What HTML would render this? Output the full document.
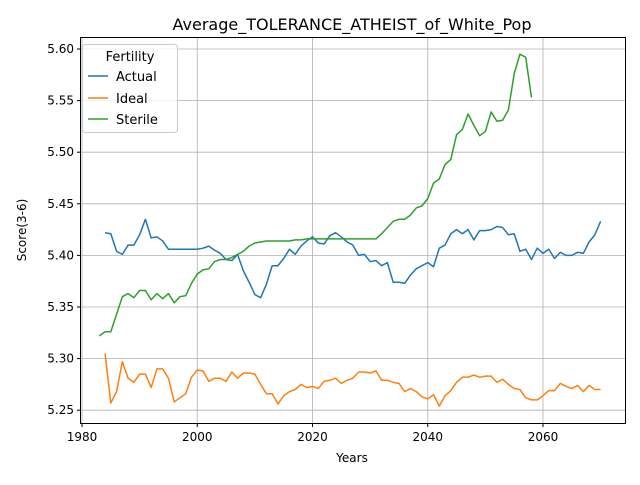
<!DOCTYPE html>
<html><head><meta charset="utf-8"><style>
body{margin:0;background:#fff;font-family:"Liberation Sans","DejaVu Sans",sans-serif}
</style></head><body>
<svg id="chart" width="640" height="480" xmlns="http://www.w3.org/2000/svg" font-family="'DejaVu Sans','Liberation Sans',sans-serif">
<rect width="640" height="480" fill="#fff"/>
<g id="grid"></g>
<g id="lines"></g>
<rect x="80.5" y="37.5" width="545" height="386" fill="none" stroke="#000" stroke-width="1"/>
<g id="ticks"></g>
<text x="352" y="30" text-anchor="middle" font-size="16">Average_TOLERANCE_ATHEIST_of_White_Pop</text>
<text x="352" y="462" text-anchor="middle" font-size="12">Years</text>
<text x="26" y="230" text-anchor="middle" font-size="12" transform="rotate(-90 26 230)">Score(3-6)</text>
<g>
<rect x="82.5" y="44.5" width="95" height="88" rx="3" fill="#fff" fill-opacity="0.8" stroke="#ccc"/>
<text x="130" y="61" text-anchor="middle" font-size="13">Fertility</text>
<g><line x1="88" y1="76" x2="108" y2="76" stroke="#1f77b4" stroke-width="1.5"/><text x="116" y="81" font-size="13">Actual</text></g>
<g><line x1="88" y1="98" x2="108" y2="98" stroke="#ff7f0e" stroke-width="1.5"/><text x="116" y="103" font-size="13">Ideal</text></g>
<g><line x1="88" y1="119" x2="108" y2="119" stroke="#2ca02c" stroke-width="1.5"/><text x="116" y="124" font-size="13">Sterile</text></g>
</g>
</svg>
<script>
const actualStart = 1984;
const actual = [5.422,5.421,5.404,5.401,5.410,5.410,5.420,5.435,5.417,5.418,
5.414,5.406,5.406,5.406,5.406,5.406,5.406,5.407,5.409,5.405,
5.402,5.396,5.395,5.401,5.385,5.374,5.362,5.359,5.372,5.390,
5.390,5.397,5.406,5.401,5.409,5.414,5.418,5.412,5.411,5.419,
5.422,5.418,5.413,5.410,5.400,5.401,5.394,5.395,5.390,5.393,
5.374,5.374,5.373,5.381,5.387,5.390,5.393,5.389,5.407,5.410,
5.421,5.425,5.421,5.425,5.415,5.424,5.424,5.425,5.428,5.427,
5.420,5.421,5.404,5.406,5.396,5.407,5.402,5.406,5.397,5.403,
5.400,5.400,5.403,5.402,5.413,5.420,5.433];
const idealStart = 1984;
const ideal = [5.305,5.257,5.268,5.297,5.281,5.277,5.285,5.285,5.272,5.290,
5.290,5.281,5.258,5.262,5.266,5.282,5.289,5.288,5.278,5.281,
5.281,5.278,5.287,5.281,5.286,5.286,5.285,5.275,5.266,5.266,
5.256,5.264,5.268,5.270,5.275,5.272,5.273,5.271,5.278,5.279,
5.281,5.276,5.279,5.281,5.287,5.287,5.286,5.288,5.279,5.279,
5.277,5.276,5.268,5.271,5.268,5.263,5.261,5.265,5.254,5.264,
5.269,5.277,5.282,5.282,5.284,5.282,5.283,5.283,5.277,5.280,
5.275,5.271,5.270,5.262,5.260,5.260,5.264,5.269,5.269,5.276,
5.273,5.271,5.274,5.268,5.274,5.270,5.270];
const sterileStart = 1983;
const sterile = [5.322,5.326,5.326,5.343,5.360,5.363,5.359,5.366,5.366,5.357,
5.363,5.358,5.363,5.354,5.360,5.361,5.373,5.382,5.386,5.387,
5.394,5.396,5.396,5.398,5.401,5.404,5.409,5.412,5.413,5.414,
5.414,5.414,5.414,5.414,5.415,5.415,5.416,5.416,5.416,5.416,
5.416,5.416,5.416,5.416,5.416,5.416,5.416,5.416,5.416,5.421,
5.427,5.433,5.435,5.435,5.439,5.446,5.448,5.455,5.470,5.474,
5.488,5.493,5.517,5.522,5.537,5.526,5.516,5.520,5.539,5.530,
5.531,5.541,5.576,5.595,5.592,5.553];
const xTicks = [1980,2000,2020,2040,2060];
const yTicks = [5.25,5.30,5.35,5.40,5.45,5.50,5.55,5.60];

const NS="http://www.w3.org/2000/svg";
function xs(yr){return 82+(yr-1980)*(461/80);}
function ys(v){return 49+(5.60-v)/0.05*51.6;}
const grid=document.getElementById('grid'), ticks=document.getElementById('ticks'), lines=document.getElementById('lines');
function mk(tag,attrs,parent){const e=document.createElementNS(NS,tag);for(const k in attrs)e.setAttribute(k,attrs[k]);parent.appendChild(e);return e;}
xTicks.forEach(t=>{
  const x=xs(t);
  const g=mk('line',{x1:x,x2:x,y1:37.5,y2:423.5,stroke:'#b0b0b0','stroke-width':0.8},grid);
  
  
  mk('line',{x1:x,x2:x,y1:423.5,y2:427,stroke:'#000'},ticks);
  const tx=mk('text',{x:x,y:441,'text-anchor':'middle','font-size':12},ticks);
  tx.textContent=t;
  
  
});
yTicks.forEach(t=>{
  const y=ys(t);
  const g=mk('line',{x1:80.5,x2:625.5,y1:y,y2:y,stroke:'#b0b0b0','stroke-width':0.8},grid);
  
  
  mk('line',{x1:77,x2:80.5,y1:y,y2:y,stroke:'#000'},ticks);
  const tx=mk('text',{x:74,y:y+4,'text-anchor':'end','font-size':12},ticks);
  tx.textContent=t.toFixed(2);
  
  
});
function series(data,start,color,name){
  const pts=data.map((v,i)=>xs(start+i).toFixed(2)+','+ys(v).toFixed(2)).join(' ');
  const p=mk('polyline',{points:pts,fill:'none',stroke:color,'stroke-width':1.5,'stroke-linejoin':'round'},lines);
  
  
}
series(actual,actualStart,'#1f77b4','actual-line');
series(ideal,idealStart,'#ff7f0e','ideal-line');
series(sterile,sterileStart,'#2ca02c','sterile-line');
</script>
</body></html>
